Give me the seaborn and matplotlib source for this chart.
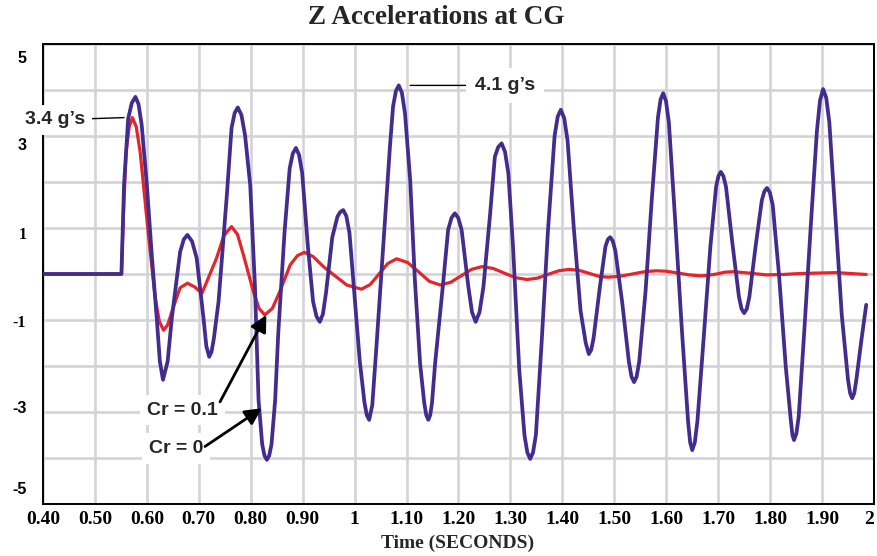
import matplotlib
matplotlib.use("Agg")
import matplotlib.pyplot as plt
import numpy as np
import pandas as pd
import seaborn as sns

# Vertical acceleration at the CG (g's) versus time (s), two damping ratios
time_cr0 = [0.400, 0.551, 0.556, 0.564, 0.571, 0.578, 0.584, 0.590,
            0.600, 0.609, 0.619, 0.625, 0.631, 0.640, 0.648, 0.664,
            0.671, 0.678, 0.687, 0.696, 0.709, 0.7145, 0.720, 0.7245,
            0.729, 0.738, 0.754, 0.763, 0.769, 0.775, 0.782, 0.789,
            0.799, 0.808, 0.815, 0.822, 0.8265, 0.831, 0.8355, 0.840,
            0.847, 0.853, 0.865, 0.875, 0.881, 0.887, 0.893, 0.899,
            0.910, 0.920, 0.9265, 0.933, 0.939, 0.945, 0.957, 0.967,
            0.9725, 0.978, 0.984, 0.990, 1.000, 1.010, 1.019, 1.0235,
            1.028, 1.034, 1.042, 1.055, 1.068, 1.074, 1.0795, 1.085,
            1.091, 1.097, 1.107, 1.116, 1.126, 1.134, 1.138, 1.142,
            1.1455, 1.149, 1.155, 1.171, 1.180, 1.1865, 1.193, 1.1995,
            1.206, 1.219, 1.226, 1.233, 1.2405, 1.248, 1.261, 1.270,
            1.2765, 1.283, 1.2895, 1.296, 1.305, 1.317, 1.327, 1.3325,
            1.338, 1.3435, 1.349, 1.360, 1.372, 1.385, 1.391, 1.397,
            1.4035, 1.410, 1.422, 1.435, 1.445, 1.451, 1.4555, 1.460,
            1.472, 1.483, 1.4875, 1.492, 1.497, 1.502, 1.515, 1.528,
            1.533, 1.538, 1.543, 1.548, 1.560, 1.572, 1.584, 1.589,
            1.594, 1.5995, 1.605, 1.617, 1.630, 1.642, 1.646, 1.650,
            1.655, 1.660, 1.672, 1.685, 1.696, 1.7005, 1.705, 1.710,
            1.715, 1.727, 1.740, 1.745, 1.750, 1.755, 1.760, 1.772,
            1.784, 1.789, 1.794, 1.7995, 1.805, 1.817, 1.830, 1.840,
            1.843, 1.846, 1.8505, 1.855, 1.866, 1.878, 1.890, 1.896,
            1.902, 1.908, 1.914, 1.926, 1.938, 1.950, 1.954, 1.958,
            1.962, 1.966, 1.975, 1.985]
accel_cr0 = [0.00, 0.00, 1.93, 3.38, 3.72, 3.85, 3.69, 3.24,
             1.93, 0.48, -0.96, -1.90, -2.30, -1.90, -0.96, 0.48,
             0.75, 0.85, 0.71, 0.34, -0.96, -1.57, -1.80, -1.69,
             -1.40, -0.60, 1.72, 3.17, 3.50, 3.62, 3.46, 3.02,
             1.93, -0.24, -2.74, -3.70, -3.95, -4.04, -3.95, -3.70,
             -2.74, -1.28, 0.90, 2.30, 2.62, 2.74, 2.59, 2.20,
             0.60, -0.60, -0.92, -1.04, -0.87, -0.40, 0.80, 1.25,
             1.35, 1.39, 1.26, 0.90, -0.50, -1.90, -2.80, -3.07,
             -3.17, -2.85, -1.58, 0.59, 2.77, 3.64, 3.98, 4.10,
             3.94, 3.49, 2.04, -0.13, -1.94, -2.80, -3.07, -3.17,
             -3.07, -2.80, -1.94, -0.13, 0.96, 1.22, 1.32, 1.22,
             0.96, -0.28, -0.83, -1.04, -0.83, -0.28, 1.32, 2.55,
             2.76, 2.84, 2.66, 2.19, 0.59, -2.09, -3.50, -3.88,
             -4.02, -3.88, -3.50, -1.50, 0.90, 3.00, 3.42, 3.57,
             3.39, 2.90, 1.00, -0.80, -1.50, -1.74, -1.65, -1.40,
             -0.30, 0.60, 0.75, 0.80, 0.72, 0.50, -0.60, -1.90,
             -2.23, -2.35, -2.23, -1.90, -0.40, 1.60, 3.40, 3.79,
             3.93, 3.76, 3.30, 1.20, -1.20, -3.20, -3.66, -3.83,
             -3.66, -3.20, -1.40, 0.60, 1.90, 2.13, 2.22, 2.13,
             1.90, 0.70, -0.50, -0.76, -0.85, -0.76, -0.50, 0.60,
             1.60, 1.80, 1.87, 1.77, 1.50, 0.00, -2.00, -3.20,
             -3.50, -3.61, -3.47, -3.10, -1.20, 1.00, 3.10, 3.77,
             4.02, 3.83, 3.30, 1.20, -0.90, -2.30, -2.59, -2.70,
             -2.59, -2.30, -1.50, -0.67]

time_cr01 = [0.400, 0.551, 0.555, 0.560, 0.566, 0.572, 0.5795, 0.587,
             0.603, 0.616, 0.624, 0.632, 0.640, 0.648, 0.664, 0.678,
             0.692, 0.706, 0.734, 0.7485, 0.763, 0.7745, 0.786, 0.805,
             0.816, 0.827, 0.8415, 0.856, 0.876, 0.890, 0.903, 0.920,
             0.940, 0.960, 0.985, 1.013, 1.030, 1.047, 1.064, 1.081,
             1.102, 1.123, 1.144, 1.165, 1.185, 1.205, 1.225, 1.245,
             1.267, 1.288, 1.310, 1.332, 1.352, 1.372, 1.393, 1.413,
             1.432, 1.450, 1.470, 1.488, 1.510, 1.535, 1.558, 1.581,
             1.600, 1.623, 1.645, 1.665, 1.680, 1.697, 1.713, 1.729,
             1.760, 1.793, 1.825, 1.857, 1.890, 1.928, 1.955, 1.985]
accel_cr01 = [0.00, 0.00, 1.35, 2.66, 3.20, 3.40, 3.20, 2.66,
              0.85, -0.52, -1.03, -1.22, -1.11, -0.82, -0.30, -0.20,
              -0.28, -0.42, 0.34, 0.84, 1.03, 0.86, 0.41, -0.38,
              -0.75, -0.89, -0.75, -0.38, 0.20, 0.40, 0.47, 0.38,
              0.16, -0.02, -0.24, -0.33, -0.23, 0.00, 0.23, 0.33,
              0.25, 0.05, -0.16, -0.24, -0.18, -0.04, 0.10, 0.16,
              0.12, 0.02, -0.08, -0.12, -0.09, -0.01, 0.07, 0.10,
              0.08, 0.02, -0.05, -0.07, -0.05, 0.00, 0.05, 0.07,
              0.06, 0.02, -0.02, -0.04, -0.03, 0.00, 0.04, 0.05,
              0.02, -0.02, -0.01, 0.01, 0.02, 0.03, 0.01, -0.01]

x_ticks = [0.40, 0.50, 0.60, 0.70, 0.80, 0.90, 1.00, 1.10, 1.20,
           1.30, 1.40, 1.50, 1.60, 1.70, 1.80, 1.90, 2.00]
x_tick_labels = ["0.40", "0.50", "0.60", "0.70", "0.80", "0.90", "1", "1.10", "1.20",
                 "1.30", "1.40", "1.50", "1.60", "1.70", "1.80", "1.90", "2"]
y_grid = [-5, -4, -3, -2, -1, 0, 1, 2, 3, 4, 5]
y_label_pos = [4.71, 2.83, 0.89, -1.02, -2.89, -4.65]
y_labels = ["5", "3", "1", "-1", "-3", "-5"]

PURPLE = "#432c8e"
RED = "#e4262c"
GRID = "#d4d2d9"
SANS = "Liberation Sans"
SERIF = "Liberation Serif"

sns.set_theme(style="white")
plt.rcParams["font.family"] = [SANS, "DejaVu Sans"]
plt.rcParams["axes.unicode_minus"] = False

fig = plt.figure(figsize=(8.77, 5.56), dpi=100)
ax = fig.add_axes([43 / 877, 52 / 556, 831 / 877, 460 / 556])

df_cr0 = pd.DataFrame({"time": time_cr0, "accel": accel_cr0})
df_cr01 = pd.DataFrame({"time": time_cr01, "accel": accel_cr01})

sns.lineplot(data=df_cr01, x="time", y="accel", ax=ax, color=RED, linewidth=2.3,
             estimator=None, sort=False, legend=False, zorder=2)
sns.lineplot(data=df_cr0, x="time", y="accel", ax=ax, color=PURPLE, linewidth=2.7,
             estimator=None, sort=False, legend=False, zorder=3)

ax.set_xlabel("")
ax.set_ylabel("")
ax.set_xlim(0.4, 2.0)
ax.set_ylim(-5, 5)

ax.set_xticks(x_ticks)
ax.set_xticklabels(x_tick_labels, fontfamily=SERIF, fontweight="bold", fontsize=14)
ax.get_xticklabels()[-1].set_horizontalalignment("right")
ax.set_yticks(y_grid, minor=True)
ax.set_yticks(y_label_pos)
ax.set_yticklabels(y_labels, fontweight="bold", fontsize=11.5)
for lab in ax.get_yticklabels():
    lab.set_fontfamily(SERIF if lab.get_text() in ("1", "-1") else SANS)

ax.grid(False)
ax.grid(True, axis="x", which="major", color=GRID, linewidth=1.9)
ax.grid(True, axis="y", which="minor", color=GRID, linewidth=1.9)
ax.set_axisbelow(True)
ax.tick_params(which="both", length=0)
ax.tick_params(axis="y", pad=12, colors="black")
ax.tick_params(axis="x", pad=5, colors="black")

for spine in ax.spines.values():
    spine.set_visible(True)
    spine.set_color("black")
    spine.set_linewidth(1.4)

# Peak callouts
i_r = int(np.argmax(accel_cr01))
t_r, v_r = time_cr01[i_r], accel_cr01[i_r]
ax.annotate("3.4 g\u2019s", xy=(t_r - 0.016, v_r), xytext=(t_r - 0.091, v_r - 0.05),
            ha="right", va="center", fontsize=14, fontweight="bold", family=SANS,
            bbox=dict(boxstyle="square,pad=0.35", fc="white", ec="none"),
            arrowprops=dict(arrowstyle="-", color="black", lw=1.0,
                            shrinkA=2, shrinkB=0, patchA=None),
            annotation_clip=False, zorder=6)

i_p = int(np.argmax(accel_cr0))
t_p, v_p = time_cr0[i_p], accel_cr0[i_p]
ax.annotate("4.1 g\u2019s", xy=(t_p + 0.022, v_p), xytext=(t_p + 0.147, v_p),
            ha="left", va="center", fontsize=14, fontweight="bold", family=SANS,
            bbox=dict(boxstyle="square,pad=0.45", fc="white", ec="none"),
            arrowprops=dict(arrowstyle="-", color="black", lw=1.0,
                            shrinkA=6.5, shrinkB=0, patchA=None),
            annotation_clip=False, zorder=6)

# Damping-ratio labels with arrows
t_arr = np.array(time_cr01)
mask = (t_arr > 0.80) & (t_arr < 0.86)
j = int(np.argmin(np.where(mask, accel_cr01, np.inf)))
t_tr, v_tr = time_cr01[j], accel_cr01[j]

ax.text(0.6002, -2.96, "Cr = 0.1", ha="left", va="center", fontsize=14,
        fontweight="bold", family=SANS, zorder=6,
        bbox=dict(boxstyle="square,pad=0.35", fc="white", ec="none"))
ax.text(0.6041, -3.80, "Cr = 0", ha="left", va="center", fontsize=14,
        fontweight="bold", family=SANS, zorder=6,
        bbox=dict(boxstyle="square,pad=0.35", fc="white", ec="none"))

arrow_kw = dict(arrowstyle="-|>,head_length=0.55,head_width=0.28", color="black",
                lw=2.0, mutation_scale=18, shrinkA=0, shrinkB=0)
ax.annotate("", xy=(t_tr + 0.003, v_tr), xytext=(0.7408, -2.78),
            arrowprops=arrow_kw, zorder=7)
ax.annotate("", xy=(0.8211, -2.92), xytext=(0.7119, -3.75),
            arrowprops=arrow_kw, zorder=7)

fig.text(436 / 877, 1 - 18 / 556, "Z Accelerations at CG", ha="center", va="center",
         family=SERIF, fontweight="bold", fontsize=19.5)
fig.text(457.5 / 877, 1 - 543 / 556, "Time (SECONDS)", ha="center", va="center",
         family=SERIF, fontweight="bold", fontsize=14)

fig.savefig("out.png", dpi=100)
